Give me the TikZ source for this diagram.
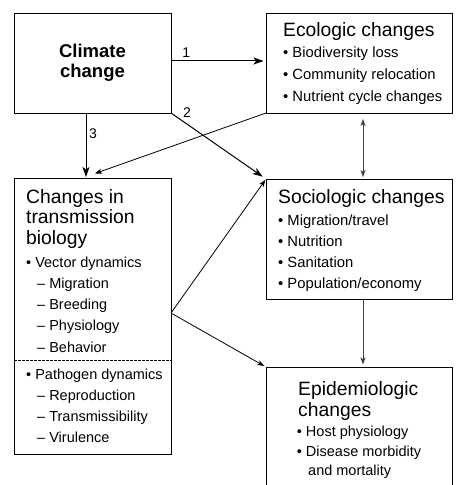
\documentclass[tikz,border=0pt]{standalone}
\usepackage{fontspec}
\setmainfont{Liberation Sans}
\usetikzlibrary{arrows.meta}
\newcommand{\tblock}[3]{\parbox[t]{170bp}{\raggedright\fontsize{#1}{#2}\selectfont #3}}
\newcommand{\sub}{\hspace*{11bp}–\ }
\begin{document}
\begin{tikzpicture}[x=1bp,y=-1bp,
  box/.style={draw, line width=0.9bp, inner sep=0, outer sep=0},
  ttl/.style={anchor=base west, inner sep=0},
  big/.style={line width=1bp, -{Stealth[length=10bp,width=7bp,inset=2.5bp]}},
  small/.style={line width=0.8bp, -{Stealth[length=7bp,width=5bp,inset=1.8bp]}},
  both/.style={line width=0.8bp, {Stealth[length=7bp,width=5bp,inset=1.8bp]}-{Stealth[length=7bp,width=5bp,inset=1.8bp]}},
  grey/.style={draw=black!75},
  lbl/.style={inner sep=0, font=\fontsize{14bp}{14bp}\selectfont}]
\useasboundingbox (0,0) rectangle (456,485);
\clip (0,0) rectangle (456,485);
% boxes
\node[box, minimum width=157bp, minimum height=100bp, align=center,
      font=\bfseries\fontsize{18.5bp}{20.5bp}\selectfont] (climate) at (92.5,63) {Climate\\change};
\node[box, minimum width=186bp, minimum height=100bp] (eco) at (359,63) {};
\node[box, minimum width=186bp, minimum height=120bp] (socio) at (359,239) {};
\node[box, minimum width=157bp, minimum height=276bp] (trans) at (92.5,316) {};
\node[box, minimum width=186bp, minimum height=140bp] (epi) at (359,437) {};
% texts
\node[ttl] (ecot) at (283,36.7) {\tblock{19.3bp}{21bp}{Ecologic changes}};
\node[ttl] (ecob) at (283,57.3) {\tblock{14.8bp}{22bp}{•\ Biodiversity loss\\•\ Community relocation\\•\ Nutrient cycle changes}};
\node[ttl] (sociot) at (278,203) {\tblock{19.3bp}{21bp}{Sociologic changes}};
\node[ttl] (sociob) at (278,225) {\tblock{14.8bp}{21bp}{•\ Migration/travel\\•\ Nutrition\\•\ Sanitation\\•\ Population/economy}};
\node[ttl] (transt) at (26,203.3) {\tblock{19.3bp}{20.6bp}{Changes in\\transmission\\biology}};
\node[ttl] (transb) at (26,267) {\tblock{14.5bp}{21.3bp}{•\ Vector dynamics\\\sub Migration\\\sub Breeding\\\sub Physiology\\\sub Behavior}};
\node[ttl] (transc) at (26,379) {\tblock{14.5bp}{21.3bp}{•\ Pathogen dynamics\\\sub Reproduction\\\sub Transmissibility\\\sub Virulence}};
\node[ttl] (epit) at (298,395) {\tblock{19.3bp}{21bp}{Epidemiologic\\changes}};
\node[ttl] (epib) at (296.7,436.7) {\tblock{14.5bp}{20bp}{•\ Host physiology\\•\ Disease morbidity}};
\node[ttl] (epic) at (308,475) {\tblock{14.5bp}{20bp}{and mortality}};
% divider
\coordinate (dl) at (14,360);
\coordinate (dr) at (171,360);
\draw[line width=0.8bp, dash pattern=on 2.5bp off 1.5bp] (dl) -- (dr);
% connectors
\draw[big, shorten >=2.5bp] ([yshift=2bp]climate.east) -- ([yshift=2bp]eco.west)
  node[lbl, pos=0.16, yshift=8.5bp] (l1) {1};
\draw[big, shorten >=4bp] (climate.south east) -- (socio.north west);
\node[lbl] (l2) at (187,113) {2};
\draw[big, shorten >=1bp] ([xshift=-6.5bp]climate.south) -- ([xshift=-6.5bp]trans.north);
\node[lbl] (l3) at (93,134) {3};
\draw[small] (eco.south west) -- ([xshift=2.5bp,yshift=4.5bp]trans.north);
\draw[both, grey, shorten <=6bp, shorten >=2bp] ([xshift=4bp]eco.south) -- ([xshift=4bp]socio.north);
\draw[small, grey, shorten >=2.5bp] ([xshift=4bp]socio.south) -- ([xshift=4bp]epi.north);
\draw[small, shorten >=1bp] ([yshift=3bp]trans.east) -- (socio.north west);
\draw[small, shorten >=2bp] ([yshift=3bp]trans.east) -- (epi.north west);
\end{tikzpicture}
\end{document}
